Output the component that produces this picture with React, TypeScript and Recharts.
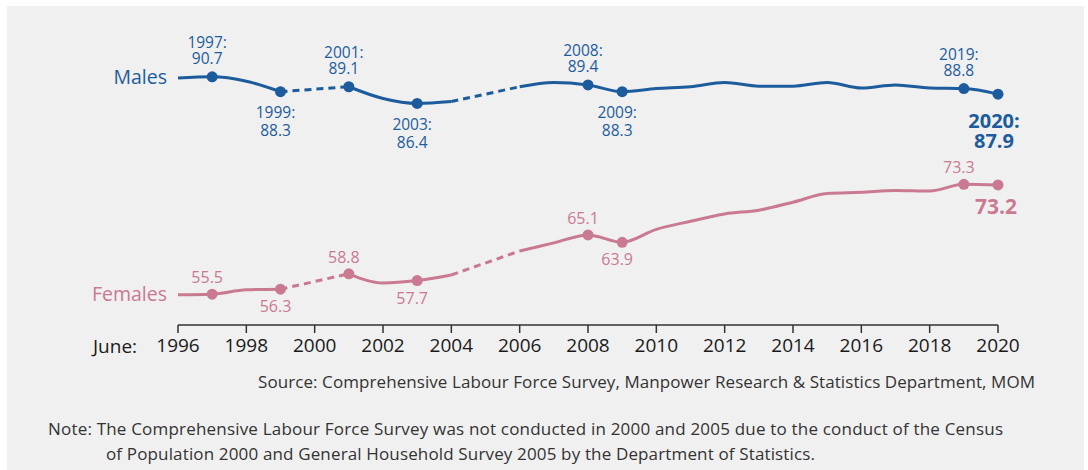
import React from "react";
import { LineChart, Line, XAxis, YAxis } from "recharts";

// June labour force participation rates (%), residents
const years = [
  1996, 1997, 1998, 1999, 2000, 2001, 2002, 2003, 2004, 2005, 2006, 2007, 2008,
  2009, 2010, 2011, 2012, 2013, 2014, 2015, 2016, 2017, 2018, 2019, 2020,
];
// 2000 and 2005: survey not conducted
const maleRates: (number | null)[] = [
  90.5, 90.7, 90.0, 88.3, null, 89.1, 87.2, 86.4, 86.7, null, 89.1, 89.8, 89.4,
  88.3, 88.8, 89.1, 89.8, 89.2, 89.2, 89.8, 88.9, 89.4, 88.9, 88.8, 87.9,
];
const femaleRates: (number | null)[] = [
  55.4, 55.5, 56.2, 56.3, null, 58.8, 57.3, 57.7, 58.6, null, 62.5, 63.8, 65.1,
  63.9, 66.0, 67.3, 68.5, 69.1, 70.4, 71.8, 72.0, 72.3, 72.2, 73.3, 73.2,
];
const markedYears = [1997, 1999, 2001, 2003, 2008, 2009, 2019, 2020];
const labelAboveYears = [1997, 2001, 2008, 2019];
const latestYear = 2020;
const tickYears = [1996, 1998, 2000, 2002, 2004, 2006, 2008, 2010, 2012, 2014, 2016, 2018, 2020];

const MALE = "#1d5c9c";
const FEMALE = "#c97a90";
const FONT = "'Open Sans', 'Noto Sans', sans-serif";

// dashed bridges across the missing years
const gapIndexes = years.map((_, i) => (maleRates[i] === null ? i : -1)).filter((i) => i >= 0);

const rows = years.map((year, i) => {
  const row: Record<string, number | null> = { year, male: maleRates[i], female: femaleRates[i] };
  gapIndexes.forEach((g, k) => {
    if (i === g - 1 || i === g + 1) {
      row[`maleBridge${k}`] = maleRates[i];
      row[`femaleBridge${k}`] = femaleRates[i];
    }
  });
  return row;
});

function makeDot(series: "male" | "female") {
  const color = series === "male" ? MALE : FEMALE;
  return (props: any) => {
    const { cx, cy, payload, value } = props;
    const year = payload.year;
    const key = `${series}-${year}`;
    if (cx == null || cy == null || value == null) return <g key={key} />;
    const v = Number(Array.isArray(value) ? value[1] : value).toFixed(1);
    const parts: React.ReactNode[] = [];

    if (year === years[0]) {
      parts.push(
        <text key="name" x={cx - 11} y={cy + 6} textAnchor="end" fontSize={19.5} fill={color} fontFamily={FONT}>
          {series === "male" ? "Males" : "Females"}
        </text>
      );
    }

    if (markedYears.includes(year)) {
      parts.push(<circle key="c" cx={cx} cy={cy} r={5.5} fill={color} />);
      const lx = cx - 5;
      if (year === latestYear) {
        if (series === "male") {
          parts.push(
            <text key="l1" x={cx - 4} y={cy + 34} textAnchor="middle" fontSize={20} fontWeight={700} fill={color} fontFamily={FONT}>
              {`${year}:`}
            </text>,
            <text key="l2" x={cx - 4} y={cy + 54} textAnchor="middle" fontSize={20} fontWeight={700} fill={color} fontFamily={FONT}>
              {v}
            </text>
          );
        } else {
          parts.push(
            <text key="l" x={cx - 2} y={cy + 29} textAnchor="middle" fontSize={21} fontWeight={700} fill={color} fontFamily={FONT}>
              {v}
            </text>
          );
        }
      } else {
        const above = labelAboveYears.includes(year);
        if (series === "male") {
          const y1 = above ? cy - 28.5 : cy + 26.5;
          const y2 = above ? cy - 12.5 : cy + 44.5;
          parts.push(
            <text key="l1" x={lx} y={y1} textAnchor="middle" fontSize={15.5} fill={color} fontFamily={FONT}>
              {`${year}:`}
            </text>,
            <text key="l2" x={lx} y={y2} textAnchor="middle" fontSize={15.5} fill={color} fontFamily={FONT}>
              {v}
            </text>
          );
        } else {
          parts.push(
            <text key="l" x={lx} y={above ? cy - 11 : cy + 23} textAnchor="middle" fontSize={16} fill={color} fontFamily={FONT}>
              {v}
            </text>
          );
        }
      }
    }
    return <g key={key}>{parts}</g>;
  };
}

export default function App() {
  return (
    <div style={{ position: "absolute", left: 0, top: 0, width: 1088, height: 470, background: "#ffffff", overflow: "hidden" }}>
      <div style={{ position: "absolute", left: 7, top: 6, width: 1077, height: 464, background: "#f0f0f0" }} />
      <div style={{ position: "absolute", left: 0, top: 0 }}>
        <LineChart width={1088} height={470} data={rows} margin={{ top: 17, right: 90, bottom: 105, left: 178 }}>
          <XAxis
            dataKey="year"
            type="number"
            domain={[1996, 2020]}
            ticks={tickYears}
            interval={0}
            height={40}
            axisLine={{ stroke: "#333333", strokeWidth: 1.5 }}
            tickLine={{ stroke: "#333333", strokeWidth: 1.5 }}
            tickSize={8}
            tickMargin={6}
            tick={{ fill: "#1a1a1a", fontSize: 19, fontFamily: FONT }}
          />
          <YAxis hide domain={[50.5, 100.4]} />
          {gapIndexes.map((_, k) => (
            <Line
              key={`mb${k}`}
              dataKey={`maleBridge${k}`}
              type="linear"
              stroke={MALE}
              strokeWidth={3}
              strokeDasharray="7 5"
              connectNulls
              dot={false}
              activeDot={false}
              isAnimationActive={false}
            />
          ))}
          {gapIndexes.map((_, k) => (
            <Line
              key={`fb${k}`}
              dataKey={`femaleBridge${k}`}
              type="linear"
              stroke={FEMALE}
              strokeWidth={3}
              strokeDasharray="7 5"
              connectNulls
              dot={false}
              activeDot={false}
              isAnimationActive={false}
            />
          ))}
          <Line
            dataKey="male"
            type="monotone"
            stroke={MALE}
            strokeWidth={3}
            connectNulls={false}
            dot={makeDot("male")}
            activeDot={false}
            isAnimationActive={false}
          />
          <Line
            dataKey="female"
            type="monotone"
            stroke={FEMALE}
            strokeWidth={3}
            connectNulls={false}
            dot={makeDot("female")}
            activeDot={false}
            isAnimationActive={false}
          />
        </LineChart>
      </div>
      <svg width={1088} height={470} style={{ position: "absolute", left: 0, top: 0, pointerEvents: "none" }}>
        <text x={93} y={352.5} fontSize={19} fill="#1a1a1a" fontFamily={FONT}>June:</text>
        <text x={258} y={388} fontSize={17} fill="#333333" fontFamily={FONT} textLength={777} lengthAdjust="spacing">
          Source: Comprehensive Labour Force Survey, Manpower Research &amp; Statistics Department, MOM
        </text>
        <text x={48} y={435} fontSize={17} fill="#333333" fontFamily={FONT} textLength={955} lengthAdjust="spacing">
          Note: The Comprehensive Labour Force Survey was not conducted in 2000 and 2005 due to the conduct of the Census
        </text>
        <text x={106} y={460} fontSize={17} fill="#333333" fontFamily={FONT} textLength={709} lengthAdjust="spacing">
          of Population 2000 and General Household Survey 2005 by the Department of Statistics.
        </text>
      </svg>
    </div>
  );
}
